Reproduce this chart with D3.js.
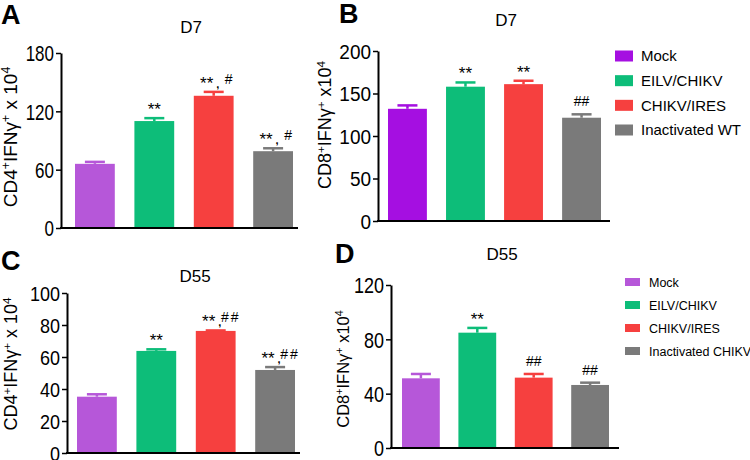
<!DOCTYPE html>
<html>
<head>
<meta charset="utf-8">
<script src="https://cdn.jsdelivr.net/npm/d3@7"></script>
<style>
body { margin: 0; background: #fff; }
svg text { font-family: Arial, "Liberation Sans", Helvetica, sans-serif; }
</style>
</head>
<body>
<div id="chart"></div>
<script>
// groups
var groupsD7 = ["Mock", "EILV/CHIKV", "CHIKV/IRES", "Inactivated WT"]
var groupsD55 = ["Mock", "EILV/CHIKV", "CHIKV/IRES", "Inactivated CHIKV"]

// means and SEM
var cd4D7 = [66, 110, 136, 79]
var cd4D7Err = [2, 3, 4, 3]
var cd8D7 = [132, 158, 161, 121.5]
var cd8D7Err = [4, 5, 4, 4]
var cd4D55 = [35.2, 63.8, 76.3, 51.9]
var cd4D55Err = [1.5, 1, 0.3, 1.8]
var cd8D55 = [51.3, 84.9, 51.8, 46.4]
var cd8D55Err = [3.2, 3.5, 2.7, 1.7]

// significance marks
var starsA = ["", "**", "**", "**"]
var hashA = ["", "", "#", "#"]
var starsB = ["", "**", "**", ""]
var hashB = ["", "", "", "##"]
var starsC = ["", "**", "**", "**"]
var hashC = ["", "", "##", "##"]
var starsD = ["", "**", "", ""]
var hashD = ["", "", "##", "##"]

// tick labels
var ticksA = [0, 60, 120, 180]
var ticksB = [0, 50, 100, 150, 200]
var ticksC = [0, 20, 40, 60, 80, 100]
var ticksD = [0, 40, 80, 120]

var colorsSoft = ["#b657d9", "#0dbd79", "#f6403f", "#7a7a7a"]
var colorsB = ["#a50fe1", "#0dbd79", "#f6403f", "#7a7a7a"]

var svg = d3.select("#chart").append("svg")
    .attr("width", 750)
    .attr("height", 460)

function drawPanel(p) {

    var x = d3.scaleBand()
        .domain(p.groups)
        .range([p.barLeft, p.barRight])
        .paddingInner(0.33)

    var y = d3.scaleLinear()
        .domain([0, p.max])
        .range([p.bottom, p.top])

    var g = svg.append("g")

    g.selectAll(".bar")
        .data(p.values).enter()
        .append("rect")
        .attr("class", "bar")
        .attr("x", function(d, i) { return x(p.groups[i]) })
        .attr("y", function(d) { return y(d) })
        .attr("width", x.bandwidth())
        .attr("height", function(d) { return y(0) - y(d) })
        .attr("fill", function(d, i) { return p.colors[i] })

    // error bars (upper half only)
    p.values.forEach(function(v, i) {
        var cx = x(p.groups[i]) + x.bandwidth() / 2
        var top = y(v + p.errs[i])
        g.append("line")
            .attr("x1", cx).attr("x2", cx)
            .attr("y1", y(v)).attr("y2", top)
            .attr("stroke", p.colors[i]).attr("stroke-width", 2.5)
        g.append("line")
            .attr("x1", cx - 10).attr("x2", cx + 10)
            .attr("y1", top).attr("y2", top)
            .attr("stroke", p.colors[i]).attr("stroke-width", 2.5)

        var both = p.stars[i] != "" && p.hash[i] != ""
        var mid = top - 13
        if (p.stars[i] != "") {
            g.append("text")
                .attr("x", both ? cx - 7 : cx)
                .attr("y", mid + 10)
                .attr("text-anchor", "middle")
                .attr("font-size", 17)
                .text(p.stars[i])
        }
        if (p.hash[i] != "") {
            g.append("text")
                .attr("x", both ? cx + 15 : cx)
                .attr("y", mid + 5)
                .attr("text-anchor", "middle")
                .attr("font-size", 14)
                .attr("letter-spacing", p.hashSpace)
                .text(p.hash[i])
        }
        if (both) {
            g.append("text")
                .attr("x", cx + 4)
                .attr("y", top - 4)
                .attr("text-anchor", "middle")
                .attr("font-size", 11)
                .attr("font-weight", "bold")
                .text(",")
        }
    })

    var yAxis = d3.axisLeft(y)
        .tickValues(p.ticks)
        .tickSize(5)
        .tickSizeOuter(0)
        .tickPadding(2)

    var ax = g.append("g")
        .attr("transform", "translate(" + p.axisX + ",0)")
        .call(yAxis)
        .attr("font-family", "Arial, Liberation Sans, sans-serif")
        .attr("font-size", p.tickFont)

    ax.select(".domain").attr("stroke", "#000").attr("stroke-width", 2)
    ax.selectAll(".tick line").attr("stroke", "#000").attr("stroke-width", 1.5)
    ax.selectAll(".tick text")
        .attr("fill", "#000")
        .attr("dy", "0.36em")
        .attr("transform", "scale(1," + p.stretch + ")")

    // x axis line, no ticks
    g.append("line")
        .attr("x1", p.axisX - 1).attr("x2", p.axisEnd)
        .attr("y1", y(0)).attr("y2", y(0))
        .attr("stroke", "#000").attr("stroke-width", 2)

    // panel letter
    g.append("text")
        .attr("x", p.letterX).attr("y", p.letterY)
        .attr("font-size", 27)
        .attr("font-weight", "bold")
        .text(p.letter)

    // title
    g.append("text")
        .attr("x", p.titleX).attr("y", p.titleY)
        .attr("text-anchor", "middle")
        .attr("font-size", 17)
        .text(p.title)

    // y label
    var lab = g.append("text")
        .attr("transform", "translate(" + p.labelX + "," + p.labelY + ") rotate(-90)")
        .attr("text-anchor", "middle")
        .attr("font-size", p.labelFont)
    lab.append("tspan").text(p.cell)
    lab.append("tspan").attr("font-size", "0.65em").attr("baseline-shift", "super").text("+")
    lab.append("tspan").text("IFN\u03b3")
    lab.append("tspan").attr("font-size", "0.65em").attr("baseline-shift", "super").text("+")
    lab.append("tspan").text(p.times)
    lab.append("tspan").attr("font-size", "0.65em").attr("baseline-shift", "super").text("4")
}

function drawLegend(groups, colors, l) {
    var rows = d3.scalePoint()
        .domain(groups)
        .range([l.top, l.bottom])

    var lg = svg.append("g")
    lg.selectAll("rect")
        .data(groups).enter()
        .append("rect")
        .attr("x", l.x)
        .attr("y", function(d) { return rows(d) - l.h / 2 })
        .attr("width", l.w)
        .attr("height", l.h)
        .attr("fill", function(d, i) { return colors[i] })

    lg.selectAll("text")
        .data(groups).enter()
        .append("text")
        .attr("x", l.x + l.w + l.gap)
        .attr("y", function(d) { return rows(d) })
        .attr("dy", "0.36em")
        .attr("font-size", l.font)
        .text(function(d) { return d })
}

drawPanel({
    groups: groupsD7, values: cd4D7, errs: cd4D7Err, stars: starsA, hash: hashA, hashSpace: 0,
    colors: colorsSoft, ticks: ticksA, max: 180, top: 53, bottom: 228,
    barLeft: 75, barRight: 293, axisX: 61, axisEnd: 298, tickFont: 17, stretch: 1.3,
    letter: "A", letterX: 1, letterY: 24, title: "D7", titleX: 191, titleY: 33,
    labelX: 17, labelY: 137, labelFont: 19, cell: "CD4", times: " x 10"
})

drawPanel({
    groups: groupsD7, values: cd8D7, errs: cd8D7Err, stars: starsB, hash: hashB, hashSpace: 0,
    colors: colorsB, ticks: ticksB, max: 200, top: 51, bottom: 221,
    barLeft: 388, barRight: 601, axisX: 378, axisEnd: 610, tickFont: 19, stretch: 1.05,
    letter: "B", letterX: 339, letterY: 23, title: "D7", titleX: 506, titleY: 26,
    labelX: 331, labelY: 125, labelFont: 18, cell: "CD8", times: " x10"
})

drawPanel({
    groups: groupsD55, values: cd4D55, errs: cd4D55Err, stars: starsC, hash: hashC, hashSpace: 2,
    colors: colorsSoft, ticks: ticksC, max: 100, top: 293, bottom: 453,
    barLeft: 77, barRight: 295, axisX: 67, axisEnd: 300, tickFont: 18, stretch: 1.08,
    letter: "C", letterX: 1, letterY: 270, title: "D55", titleX: 195, titleY: 282,
    labelX: 17, labelY: 364, labelFont: 18, cell: "CD4", times: " x 10"
})

drawPanel({
    groups: groupsD55, values: cd8D55, errs: cd8D55Err, stars: starsD, hash: hashD, hashSpace: 0,
    colors: colorsSoft, ticks: ticksD, max: 120, top: 285, bottom: 448,
    barLeft: 402, barRight: 609, axisX: 391, axisEnd: 619, tickFont: 18, stretch: 1.2,
    letter: "D", letterX: 335, letterY: 263, title: "D55", titleX: 502, titleY: 260,
    labelX: 349, labelY: 369, labelFont: 16.5, cell: "CD8", times: " x10"
})

drawLegend(groupsD7, colorsB, {x: 615, w: 18, h: 11, gap: 8, top: 56, bottom: 130, font: 15})
drawLegend(groupsD55, colorsSoft, {x: 625, w: 15, h: 8, gap: 9, top: 282, bottom: 351, font: 12.5})
</script>
</body>
</html>
